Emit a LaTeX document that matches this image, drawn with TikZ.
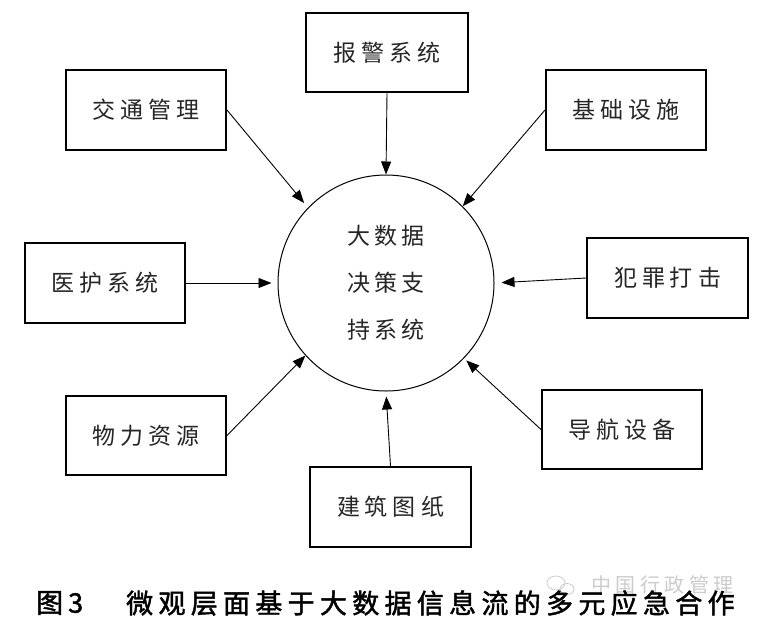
\documentclass[tikz,border=0pt]{standalone}
\usepackage{fontspec}
\setmainfont{Noto Sans CJK SC}
\newfontfamily\capfont{Noto Sans CJK SC}[FakeBold=1.6]
\usetikzlibrary{arrows.meta}
\let\lspEnd\relax
\newcommand\lsp[2]{\def\lspgap{\hspace{#1}}\lspA#2\lspEnd}
\def\lspA#1#2{#1\ifx#2\lspEnd\else\lspgap\expandafter\lspA\expandafter#2\fi}
\tikzset{
  box/.style={draw, line width=2pt, minimum width=160pt, minimum height=80pt,
    inner sep=0pt, font=\fontsize{23}{23}\selectfont, text=black!85},
  arr/.style={line width=0.9pt, -{Triangle[length=13pt,width=10pt]}},
  bigc/.style={circle, draw, line width=1pt, minimum size=216pt, inner sep=0pt,
    align=center, font=\fontsize{23}{47}\selectfont, text=black!85},
  captxt/.style={font=\capfont\fontsize{27}{27}\selectfont, anchor=west, inner sep=0pt},
  wmark/.style={text=gray!40, font=\fontsize{20}{20}\selectfont, anchor=west, inner sep=0pt}
}
\begin{document}
\begin{tikzpicture}[x=1pt,y=-1pt]
\useasboundingbox[fill=white] (0,0) rectangle (762,627);
% boxes
\node[box, minimum width=162pt, minimum height=79pt] (bj) at (387,52.5) {\lsp{5pt}{报警系统}};
\node[box] (jt) at (146,110) {\lsp{5pt}{交通管理}};
\node[box] (jc) at (626,110) {\lsp{5pt}{基础设施}};
\node[box] (yh) at (105,283) {\lsp{5pt}{医护系统}};
\node[box, minimum width=161pt] (fz) at (667.5,278) {\lsp{5pt}{犯罪打击}};
\node[box, minimum height=79pt] (wl) at (146,435.5) {\lsp{5pt}{物力资源}};
\node[box, minimum height=79pt] (dh) at (622,429.5) {\lsp{5pt}{导航设备}};
\node[box, minimum width=161pt] (jz) at (390.5,507) {\lsp{5pt}{建筑图纸}};
% centre circle
\node[bigc] (c) at (386,283) {\lsp{4pt}{大数据}\\\lsp{4pt}{决策支}\\\lsp{4pt}{持系统}};
% arrows
\draw[arr] (bj.south) -- (c.north);
\draw[arr, shorten >=6pt] (jt.east) -- (c.136);
\draw[arr] (jc.west) -- (c.45);
\draw[arr, shorten >=6pt] (yh.east) -- (c.west);
\draw[arr, shorten >=7pt] (fz.west) -- (c.east);
\draw[arr] (wl.east) -- (c.222);
\draw[arr, shorten >=3pt] (dh.west) -- (c.316);
\draw[arr, shorten >=5pt] (jz.north) -- (c.south);
% watermark
\draw[gray!40, line width=0.8pt] (556,583) ellipse (9pt and 7pt);
\draw[gray!40, line width=0.8pt] (567,589) ellipse (7pt and 5.5pt);
\node[wmark] (wm) at (591,585) {\lsp{4.5pt}{中国行政管理}};
% caption
\node[captxt] (figno) at (36,603) {图\hspace{5pt}3};
\node[captxt] (caption) at (126,603) {\lsp{5.3pt}{微观层面基于大数据信息流的多元应急合作}};
\end{tikzpicture}
\end{document}
